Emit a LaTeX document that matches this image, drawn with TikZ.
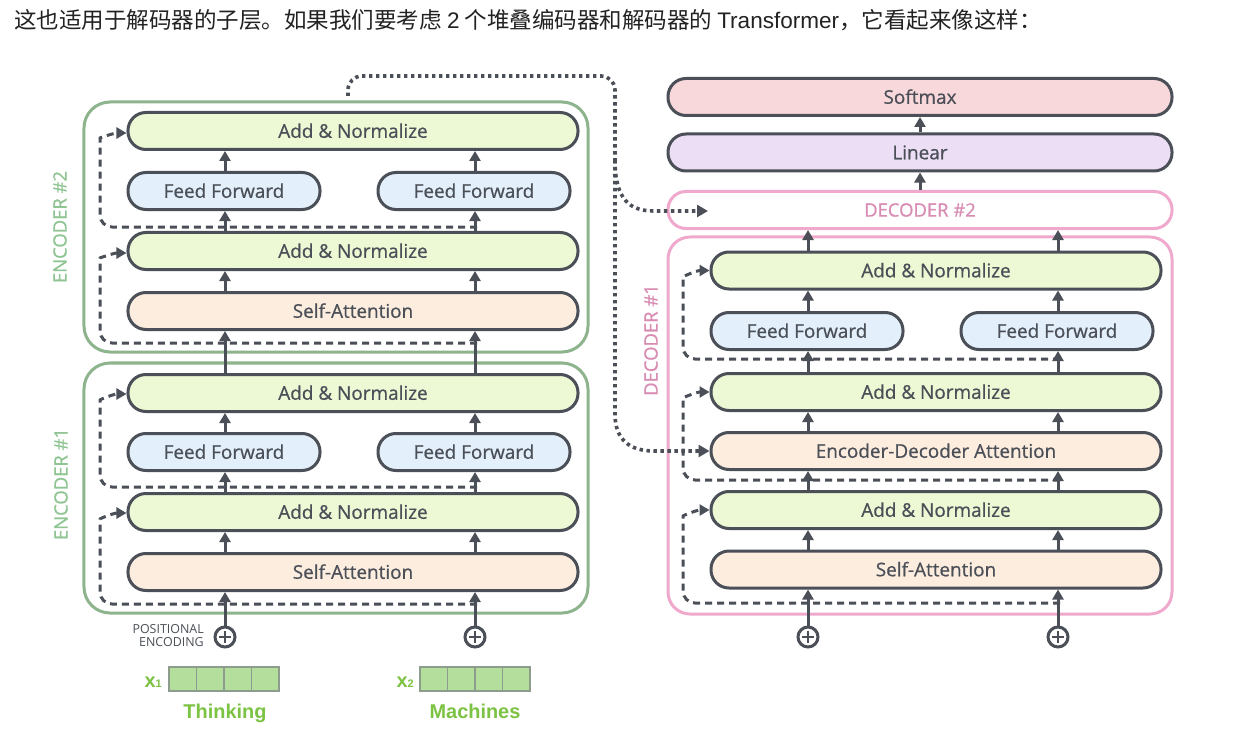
\documentclass[tikz,border=0pt]{standalone}
\usepackage{fontspec}
\setmainfont{Open Sans}
\newfontfamily\boxfont{Open Sans}[FakeBold=0.7]
\newfontfamily\cjkfont{Noto Sans CJK SC}
\newfontfamily\lsans{Liberation Sans}
\usetikzlibrary{arrows.meta,calc}
\definecolor{ink}{HTML}{4B4F57}
\definecolor{annfill}{HTML}{EDF8D4}
\definecolor{fffill}{HTML}{E3F0FC}
\definecolor{safill}{HTML}{FCEDDF}
\definecolor{smfill}{HTML}{F8D8DA}
\definecolor{linfill}{HTML}{ECDEF5}
\definecolor{encgreen}{HTML}{8DB48D}
\definecolor{enclabel}{HTML}{8FC592}
\definecolor{decpink}{HTML}{F0A9CC}
\definecolor{declabel}{HTML}{D98CB3}
\definecolor{wordgreen}{HTML}{7CC243}
\definecolor{cellfill}{HTML}{B4DE9B}
\definecolor{cellline}{HTML}{8E9C8E}
\definecolor{titleink}{HTML}{222222}
\tikzset{
  layer/.style={draw=ink, line width=3bp, rounded corners=18bp, minimum height=37bp,
    inner sep=0pt, text=ink, font=\boxfont\fontsize{19}{21}\selectfont, text height=13.6bp, text depth=0pt},
  widebox/.style={layer, minimum width=450bp},
  ffbox/.style={layer, fill=fffill, minimum width=192bp},
  topbox/.style={layer, minimum width=504bp},
  encframe/.style={draw=encgreen, line width=3bp, rounded corners=26bp, minimum width=504bp, minimum height=250bp, inner sep=0pt},
  decframe/.style={draw=decpink, line width=3bp, rounded corners=22bp, minimum width=504bp, inner sep=0pt},
  sidelabel/.style={rotate=90, font=\boxfont\fontsize{18.5}{19}\selectfont, inner sep=0pt},
  arr/.style={draw=ink, line width=3bp, -{Triangle[length=10bp,width=11bp]}},
  res/.style={draw=ink, line width=3bp, dash pattern=on 7bp off 5bp, rounded corners=12bp, -{Triangle[length=10bp,width=11bp]}},
  dotc/.style={draw=ink, line width=3.6bp, dash pattern=on 3.4bp off 3.6bp, rounded corners=14bp},
  plusnode/.style={circle, draw=ink, line width=3bp, minimum size=20bp, inner sep=0pt,
    path picture={\draw[ink, line width=2.8bp] ([xshift=-6bp]path picture bounding box.center) -- ([xshift=6bp]path picture bounding box.center)
      ([yshift=-6bp]path picture bounding box.center) -- ([yshift=6bp]path picture bounding box.center);}},
  cell/.style={draw=cellline, fill=cellfill, line width=1.2bp, minimum width=27.5bp, minimum height=24bp, inner sep=0pt},
  word/.style={text=wordgreen, font=\lsans\bfseries\fontsize{20}{20}\selectfont, inner sep=0pt},
}
\newcommand{\xlab}[1]{\lsans\bfseries\fontsize{20}{20}\selectfont x{\fontsize{11}{11}\selectfont #1}}
\begin{document}
\begin{tikzpicture}[x=1bp, y=-1bp]
\useasboundingbox (0,0) rectangle (1236,734);
\fill[white] (0,0) rectangle (1236,734);

% title
\node[anchor=west, inner sep=0pt, text=titleink] (title) at (14,20)
  {\cjkfont\fontsize{22.6}{23}\selectfont 这也适用于解码器的子层。如果我们要考虑 {\lsans 2} 个堆叠编码器和解码器的 {\lsans Transformer}，它看起来像这样：};

% column coordinates
\coordinate (L) at (225,0);
\coordinate (R) at (475,0);
\coordinate (DL) at (808,0);
\coordinate (DR) at (1058,0);

% ===== Encoders =====
\node[encframe] (enc2) at (336,227) {};
\node[encframe] (enc1) at (336,488) {};
\node[sidelabel, text=enclabel] (enc2lab) at (60,227) {ENCODER \#2};
\node[sidelabel, text=enclabel] (enc1lab) at (61,484) {ENCODER \#1};

% encoder 2
\node[widebox, fill=annfill] (e2an2) at (353,131) {Add \& Normalize};
\node[ffbox] (e2ffa) at (224,191) {Feed Forward};
\node[ffbox] (e2ffb) at (474,191) {Feed Forward};
\node[widebox, fill=annfill] (e2an1) at (353,251) {Add \& Normalize};
\node[widebox, fill=safill] (e2sa) at (353,311) {Self-Attention};
% encoder 1
\node[widebox, fill=annfill] (e1an2) at (353,393) {Add \& Normalize};
\node[ffbox] (e1ffa) at (224,452) {Feed Forward};
\node[ffbox] (e1ffb) at (474,452) {Feed Forward};
\node[widebox, fill=annfill] (e1an1) at (353,512) {Add \& Normalize};
\node[widebox, fill=safill] (e1sa) at (353,572) {Self-Attention};

% plus + positional
\node[plusnode] (pa) at (225,637) {};
\node[plusnode] (pb) at (475,637) {};
\node[anchor=east, align=right, inner sep=0pt, text=ink, font=\fontsize{12.5}{13}\selectfont] (posenc) at (204,635.5) {POSITIONAL\\ENCODING};

% input vectors
\node[cell] (xa1) at (182.75,679) {};
\node[cell] (xa2) at (210.25,679) {};
\node[cell] (xa3) at (237.75,679) {};
\node[cell] (xa4) at (265.25,679) {};
\node[cell] (xb1) at (433.75,679) {};
\node[cell] (xb2) at (461.25,679) {};
\node[cell] (xb3) at (488.75,679) {};
\node[cell] (xb4) at (516.25,679) {};
\node[anchor=base east, inner sep=0pt, text=wordgreen] (xalab) at (162,687) {\xlab{1}};
\node[anchor=base east, inner sep=0pt, text=wordgreen] (xblab) at (414,687) {\xlab{2}};
\node[word, anchor=base] (wa) at (225,718) {Thinking};
\node[word, anchor=base] (wb) at (475,718) {Machines};

% encoder arrows
\draw[arr] (pa.north) -- (e1sa.south -| L);
\draw[arr] (pb.north) -- (e1sa.south -| R);
\draw[arr] (e1sa.north -| L) -- (e1an1.south -| L);
\draw[arr] (e1sa.north -| R) -- (e1an1.south -| R);
\draw[arr] (e1an1.north -| L) -- (e1ffa.south -| L);
\draw[arr] (e1an1.north -| R) -- (e1ffb.south -| R);
\draw[arr] (e1ffa.north -| L) -- (e1an2.south -| L);
\draw[arr] (e1ffb.north -| R) -- (e1an2.south -| R);
\draw[arr] (e1an2.north -| L) -- (e2sa.south -| L);
\draw[arr] (e1an2.north -| R) -- (e2sa.south -| R);
\draw[arr] (e2sa.north -| L) -- (e2an1.south -| L);
\draw[arr] (e2sa.north -| R) -- (e2an1.south -| R);
\draw[arr] (e2an1.north -| L) -- (e2ffa.south -| L);
\draw[arr] (e2an1.north -| R) -- (e2ffb.south -| R);
\draw[arr] (e2ffa.north -| L) -- (e2an2.south -| L);
\draw[arr] (e2ffb.north -| R) -- (e2an2.south -| R);

% encoder residuals
\coordinate (r2a) at (477,227);
\coordinate (r2b) at (477,343);
\coordinate (r1a) at (477,487);
\coordinate (r1b) at (477,604);
\draw[res] (r2a) -- (100,227) -- (100,150) to[out=90,in=180] ([yshift=-2bp]e2an2.west);
\draw[res] (r2b) -- (100,343) -- (100,270) to[out=90,in=180] ([yshift=-2bp]e2an1.west);
\draw[res] (r1a) -- (100,487) -- (100,412) to[out=90,in=180] ([yshift=-1bp]e1an2.west);
\draw[res] (r1b) -- (100,604) -- (100,531) to[out=90,in=180] ([yshift=-1bp]e1an1.west);

% ===== Decoder side =====
\node[topbox, fill=smfill] (sm) at (920,97) {Softmax};
\node[topbox, fill=linfill] (lin) at (920,152.5) {Linear};
\node[decframe, minimum height=37bp, rounded corners=18bp, text=declabel, font=\boxfont\fontsize{18.5}{19}\selectfont, text height=13.2bp, text depth=0pt] (dec2) at (920,210) {DECODER \#2};
\node[decframe, minimum height=377bp] (dec1) at (920,425.5) {};
\node[sidelabel, text=declabel] (dec1lab) at (651,340) {DECODER \#1};

\node[widebox, fill=annfill] (d1an3) at (936,270.5) {Add \& Normalize};
\node[ffbox] (d1ffa) at (807,331) {Feed Forward};
\node[ffbox] (d1ffb) at (1057,331) {Feed Forward};
\node[widebox, fill=annfill] (d1an2) at (936,392) {Add \& Normalize};
\node[widebox, fill=safill] (d1eda) at (936,451) {Encoder-Decoder Attention};
\node[widebox, fill=annfill] (d1an1) at (936,510) {Add \& Normalize};
\node[widebox, fill=safill] (d1sa) at (936,569.5) {Self-Attention};

\node[plusnode] (pc) at (808,637) {};
\node[plusnode] (pd) at (1058,637) {};

% decoder arrows
\draw[arr] (lin.north) -- (sm.south);
\draw[arr] (dec2.north) -- (lin.south);
\draw[arr] (d1an3.north -| DL) -- (dec2.south -| DL);
\draw[arr] (d1an3.north -| DR) -- (dec2.south -| DR);
\draw[arr] (d1ffa.north -| DL) -- (d1an3.south -| DL);
\draw[arr] (d1ffb.north -| DR) -- (d1an3.south -| DR);
\draw[arr] (d1an2.north -| DL) -- (d1ffa.south -| DL);
\draw[arr] (d1an2.north -| DR) -- (d1ffb.south -| DR);
\draw[arr] (d1eda.north -| DL) -- (d1an2.south -| DL);
\draw[arr] (d1eda.north -| DR) -- (d1an2.south -| DR);
\draw[arr] (d1an1.north -| DL) -- (d1eda.south -| DL);
\draw[arr] (d1an1.north -| DR) -- (d1eda.south -| DR);
\draw[arr] (d1sa.north -| DL) -- (d1an1.south -| DL);
\draw[arr] (d1sa.north -| DR) -- (d1an1.south -| DR);
\draw[arr] (pc.north) -- (d1sa.south -| DL);
\draw[arr] (pd.north) -- (d1sa.south -| DR);

% decoder residuals
\coordinate (q3) at (1060,359);
\coordinate (q2) at (1060,480);
\coordinate (q1) at (1060,603);
\draw[res] (q3) -- (683,359) -- (683,289) to[out=90,in=180] (d1an3.west);
\draw[res] (q2) -- (683,480) -- (683,410) to[out=90,in=180] (d1an2.west);
\draw[res] (q1) -- (683,603) -- (683,528) to[out=90,in=180] (d1an1.west);

% encoder output (dotted) to decoders
\coordinate (dstart) at (348,96);
\coordinate (dbranch) at (615,160);
\coordinate (d2in) at (708,211);
\draw[dotc] (dstart) |- (615,76) -- (dbranch);
\draw[dotc, -{Triangle[length=11bp,width=12bp]}] (dbranch) .. controls (615,200) and (630,211) .. (668,211) -- (d2in);
\draw[dotc, -{Triangle[length=11bp,width=12bp]}] (dbranch) -- (615,400) .. controls (615,440) and (630,451) .. (668,451) -- (d1eda.west);
\end{tikzpicture}
\end{document}
